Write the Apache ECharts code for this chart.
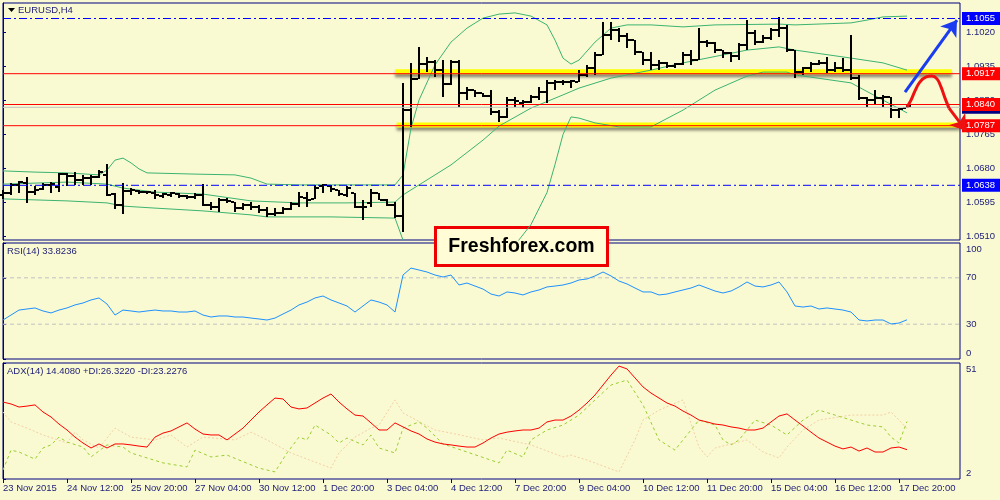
<!DOCTYPE html>
<html><head><meta charset="utf-8">
<script src="https://cdn.jsdelivr.net/npm/echarts@6/dist/echarts.min.js"></script>
<style>html,body{margin:0;padding:0;background:#fafad2;}#chart{width:1000px;height:500px;}</style>
</head><body><div id="chart"></div>
<script>
// ---- EURUSD H4 bars (index 0 = 23 Nov 04:00) ----
const barOpen = [1.0614,1.0619,1.0639,1.0644,1.0621,1.0628,1.0639,1.0634,1.0666,1.0661,1.0651,1.0656,1.0659,1.0664,1.0616,1.0589,1.0624,1.0624,1.0621,1.0619,
1.0611,1.0614,1.0616,1.0611,1.0609,1.0614,1.0589,1.0584,1.0601,1.0596,1.0581,1.0589,1.0584,1.0576,1.0566,1.0569,1.0579,1.0591,1.0606,1.0604,
1.0636,1.0636,1.0626,1.0614,1.0619,1.0584,1.0594,1.0619,1.0601,1.0589,1.0561,1.0826,1.0904,1.0941,1.0946,1.0926,1.0891,1.0946,1.0869,1.0876,
1.0869,1.0861,1.0821,1.0809,1.0851,1.0844,1.0846,1.0859,1.0871,1.0894,1.0896,1.0896,1.0896,1.0914,1.0931,1.0964,1.1014,1.1026,1.1011,1.1001,
1.0971,1.0951,1.0939,1.0944,1.0936,1.0941,1.0964,1.0951,1.0996,1.0994,1.0976,1.0969,1.0961,1.0989,1.1019,1.0996,1.1006,1.1026,1.1031,1.0976,
1.0921,1.0931,1.0941,1.0944,1.0926,1.0931,1.0926,1.0906,1.0856,1.0851,1.0856,1.0859,1.0826,1.0831];
const barHigh = [1.0626,1.0644,1.0649,1.0659,1.0636,1.0644,1.0646,1.0669,1.0669,1.0671,1.0664,1.0664,1.0676,1.0691,1.0619,1.0644,1.0631,1.0626,1.0624,1.0626,
1.0619,1.0621,1.0619,1.0614,1.0619,1.0641,1.0596,1.0606,1.0606,1.0596,1.0594,1.0596,1.0589,1.0584,1.0581,1.0584,1.0596,1.0621,1.0621,1.0639,
1.0641,1.0639,1.0626,1.0636,1.0619,1.0601,1.0629,1.0619,1.0604,1.0596,1.0894,1.0944,1.0984,1.0959,1.0951,1.0951,1.0951,1.0951,1.0884,1.0876,
1.0869,1.0876,1.0826,1.0859,1.0859,1.0851,1.0864,1.0884,1.0901,1.0901,1.0901,1.0901,1.0926,1.0939,1.0971,1.1046,1.1046,1.1031,1.1019,1.1001,
1.0971,1.0971,1.0951,1.0946,1.0944,1.0971,1.0976,1.1031,1.1001,1.0996,1.0976,1.0971,1.0994,1.1051,1.1026,1.1014,1.1031,1.1059,1.1039,1.0976,
1.0934,1.0946,1.0951,1.0959,1.0946,1.0956,1.1014,1.0914,1.0859,1.0876,1.0864,1.0859,1.0831,1.0839];
const barLow = [1.0604,1.0614,1.0619,1.0594,1.0614,1.0626,1.0619,1.0621,1.0636,1.0639,1.0639,1.0639,1.0656,1.0611,1.0579,1.0566,1.0614,1.0616,1.0616,1.0604,
1.0606,1.0609,1.0606,1.0604,1.0604,1.0586,1.0576,1.0571,1.0594,1.0571,1.0576,1.0576,1.0568,1.0559,1.0561,1.0566,1.0576,1.0584,1.0584,1.0604,
1.0619,1.0621,1.0611,1.0609,1.0581,1.0551,1.0584,1.0601,1.0586,1.0556,1.0521,1.0784,1.0904,1.0921,1.0909,1.0859,1.0889,1.0834,1.0851,1.0859,
1.0859,1.0814,1.0796,1.0806,1.0834,1.0831,1.0844,1.0851,1.0844,1.0876,1.0889,1.0881,1.0896,1.0909,1.0914,1.0964,1.1001,1.0996,1.0981,1.0964,
1.0939,1.0926,1.0926,1.0931,1.0931,1.0939,1.0939,1.0951,1.0984,1.0969,1.0956,1.0946,1.0951,1.0976,1.0989,1.0994,1.1001,1.1009,1.0971,1.0906,
1.0914,1.0921,1.0939,1.0919,1.0921,1.0921,1.0901,1.0851,1.0834,1.0839,1.0834,1.0806,1.0806,1.0831];
const barClose = [1.0619,1.0639,1.0646,1.0621,1.0626,1.0639,1.0641,1.0666,1.0661,1.0651,1.0656,1.0659,1.0671,1.0614,1.0589,1.0624,1.0626,1.0621,1.0621,1.0614,
1.0616,1.0619,1.0611,1.0609,1.0614,1.0589,1.0584,1.0601,1.0599,1.0581,1.0589,1.0584,1.0576,1.0566,1.0569,1.0579,1.0591,1.0609,1.0601,1.0631,
1.0639,1.0629,1.0616,1.0631,1.0584,1.0584,1.0619,1.0601,1.0589,1.0561,1.0826,1.0904,1.0941,1.0946,1.0926,1.0891,1.0946,1.0869,1.0876,1.0869,
1.0861,1.0821,1.0809,1.0851,1.0849,1.0846,1.0859,1.0871,1.0894,1.0896,1.0896,1.0899,1.0914,1.0931,1.0964,1.1014,1.1026,1.1011,1.1001,1.0971,
1.0951,1.0939,1.0944,1.0936,1.0941,1.0964,1.0951,1.0996,1.0994,1.0976,1.0969,1.0961,1.0989,1.1019,1.0996,1.1006,1.1026,1.1031,1.0976,1.0921,
1.0931,1.0941,1.0944,1.0926,1.0931,1.0926,1.0906,1.0856,1.0851,1.0856,1.0859,1.0826,1.0829,1.0836];

// ---- Bollinger bands: [bar index, price] ----
const bbUpper = [[0,1.0674],[4,1.0671],[8,1.0669],[12,1.0664],[13,1.0676],[14,1.0701],[15,1.0706],[16,1.0694],[17,1.0679],[18,1.0669],[24,1.0666],[29,1.0664],[31,1.0656],[33,1.0641],[37,1.0639],[43,1.0639],[49,1.0639],[50,1.0664],[51,1.0781],[52,1.0851],[54,1.0939],[56,1.0996],[58,1.1031],[60,1.1056],[62,1.1066],[64,1.1069],[66,1.1061],[68,1.1039],[69,1.1001],[70,1.0956],[71,1.0941],[72,1.0951],[74,1.0996],[76,1.1031],[78,1.1039],[81,1.1039],[85,1.1034],[89,1.1039],[97,1.1041],[99,1.1039],[106,1.1044],[108,1.1051],[110,1.1059],[113,1.1061]];
const bbMiddle = [[0,1.0641],[8,1.0646],[13,1.0641],[15,1.0631],[19,1.0621],[25,1.0616],[31,1.0599],[37,1.0594],[43,1.0594],[49,1.0596],[50,1.0614],[52,1.0639],[56,1.0689],[60,1.0751],[62,1.0786],[66,1.0831],[70,1.0864],[72,1.0881],[76,1.0906],[81,1.0926],[85,1.0944],[93,1.0976],[97,1.0984],[99,1.0976],[106,1.0956],[110,1.0944],[113,1.0926]];
const bbLower = [[0,1.0604],[8,1.0599],[13,1.0594],[15,1.0586],[19,1.0581],[25,1.0574],[31,1.0564],[33,1.0559],[41,1.0559],[49,1.0556],[50,1.0501],[51,1.0462],[54,1.0405],[57,1.0385],[60,1.0400],[62,1.0440],[64,1.0489],[66,1.0540],[68,1.0620],[69,1.0690],[70,1.0765],[71,1.0809],[72,1.0806],[74,1.0794],[77,1.0784],[81,1.0784],[85,1.0826],[89,1.0876],[93,1.0911],[95,1.0921],[98,1.0921],[99,1.0914],[106,1.0894],[110,1.0851],[113,1.0819]];

// ---- RSI(14) per bar ----
const rsiValues = [33.6,37.9,42.2,43.1,44.0,41.4,39.7,42.2,44.0,46.6,48.3,50.9,52.6,47.4,37.9,42.2,41.4,40.5,41.4,42.2,
41.4,41.4,40.5,40.5,41.4,37.9,36.2,37.1,37.1,36.2,36.2,35.3,34.5,33.6,35.3,38.8,42.2,46.6,49.1,52.6,
54.3,50.9,48.3,45.7,40.5,45.7,50.9,49.1,46.6,40.5,72.4,78.4,76.7,75.0,72.4,70.7,72.4,63.8,65.5,62.9,
60.3,56.0,54.3,57.8,56.9,55.2,57.8,59.5,62.1,62.9,63.8,65.5,68.1,69.0,71.6,75.0,71.6,67.2,64.7,61.2,
57.8,57.8,55.2,56.0,57.8,59.5,61.2,63.8,61.2,58.6,56.9,58.6,62.1,66.4,62.9,62.1,63.8,66.4,57.8,45.7,
44.8,45.7,43.1,44.0,43.1,42.2,40.5,33.6,32.8,33.6,33.6,30.2,31.0,33.8];
const rsiLevels = [70, 30];

// ---- ADX(14) per bar, DI lines as [bar index, value] ----
const adxValues = [34.5,33.7,32.4,32.8,33.3,30.3,28.2,25.2,22.7,19.7,17.2,15.1,16.8,15.1,16.8,16.8,16.4,15.9,15.5,19.7,
21.4,22.3,24.0,25.7,23.1,21.0,20.6,20.6,18.5,21.0,23.5,26.9,30.3,33.3,36.2,35.8,32.4,31.6,32.0,34.1,
36.2,37.9,34.5,31.6,29.0,28.6,25.7,22.7,22.7,25.7,24.0,22.3,21.0,18.9,17.6,16.8,16.4,15.9,15.5,15.5,
17.2,19.3,21.0,21.8,22.3,22.7,22.7,23.5,26.1,26.9,26.9,28.6,31.1,34.1,37.5,41.7,45.9,49.7,48.5,44.7,
40.9,38.3,36.2,34.1,32.8,30.7,29.0,26.9,26.1,25.2,24.8,24.0,23.5,22.7,22.7,23.5,26.1,28.6,29.5,26.9,
24.4,21.8,19.3,17.6,15.9,14.7,15.5,13.8,15.1,13.4,13.4,15.1,15.5,14.4];
const plusDI = [[0,5.8],[1,14.2],[2,13.4],[4,10.4],[5,15.1],[6,16.4],[7,19.7],[8,17.6],[10,15.5],[11,11.3],[13,16.4],[15,15.5],[16,13.0],[20,8.8],[23,7.1],[24,14.2],[26,11.3],[28,12.1],[32,6.6],[34,5.0],[35.5,13.0],[37,19.7],[38,18.5],[39,24.8],[41,20.6],[42,17.2],[43,19.3],[45,16.4],[46,20.6],[47,15.1],[49,13.0],[50,23.5],[52,26.1],[53,23.5],[55,16.8],[58,13.4],[62,8.8],[63,14.2],[65,11.3],[66,18.5],[68,22.7],[70,24.8],[72,29.0],[74,35.4],[76,41.7],[78,43.8],[80,33.3],[82,18.5],[84,14.2],[85,18.5],[87,26.9],[89,24.8],[90,18.5],[91,16.4],[92,18.5],[94,26.9],[96,24.8],[98,20.6],[100,26.9],[102,31.1],[104,29.0],[106,26.9],[108,24.8],[110,24.0],[111,19.7],[112,17.2],[113,26.3]];
const minusDI = [[0,30.3],[1,26.1],[3,23.5],[5,20.6],[8,17.2],[9,21.8],[10,18.5],[12,15.1],[14,23.5],[16,19.7],[19,18.5],[21,20.6],[23,15.5],[25,19.7],[29,18.5],[31,21.8],[33,18.5],[36,13.0],[41,6.6],[42,13.0],[44,19.7],[46,23.5],[47,24.8],[49,35.4],[50,29.9],[54,22.7],[56,21.4],[60,18.5],[62,19.3],[66,16.4],[70,11.3],[71,12.1],[73,10.0],[77,5.0],[79,18.5],[80,26.9],[82,31.1],[85,35.4],[87,15.5],[88,11.3],[89,15.1],[93,18.5],[95,13.4],[97,10.9],[98,15.5],[100,22.7],[102,26.9],[106,29.0],[110,29.0],[111,30.3],[112,26.9],[113,23.2]];

// ---- axis ticks ----
const timeTickIndex = [0,8,16,24,32,40,48,56,64,72,80,88,96,104,112];
const timeTickLabels = ['23 Nov 2015','24 Nov 12:00','25 Nov 20:00','27 Nov 04:00','30 Nov 12:00','1 Dec 20:00','3 Dec 04:00','4 Dec 12:00','7 Dec 20:00','9 Dec 04:00','10 Dec 12:00','11 Dec 20:00','15 Dec 04:00','16 Dec 12:00','17 Dec 20:00'];
const priceTicks = [1.0510,1.0595,1.0680,1.0765,1.0850,1.0935,1.1020];
const rsiTicks = [0,30,70,100];
const adxTicks = [2,51];

// ---- drawn objects ----
const redLevels = [1.0917,1.0840,1.0787];
const blueLevels = [1.1055,1.0638];
const bidPrice = 1.0833;
const zoneLevels = [1.0922,1.0789];
const zoneFrom = [49.0,49.2];
const zoneTo = [118.6,119.6];
const blueArrow = [[112.75,1.0871],[119.25,1.1051]];
const redPath = [[113,1.0834],[113.5,1.0851],[114,1.0874],[114.6,1.0896],[115.4,1.0909],[116.1,1.0911],[116.75,1.0904],[117.25,1.0884],[117.75,1.0856],[118.25,1.0831]];
const redArrowTip = [120.4,1.0774];

// ---------------------------------------------------
const NAVY = '#000080', TXT = '#1c1c78', FONT = 'Liberation Sans';
const XMAX = 119.625;
const ohlc = barOpen.map((o,i)=>[i,o,barHigh[i],barLow[i],barClose[i]]);
const chart = echarts.init(document.getElementById('chart'), null, {renderer:'canvas'});

function renderBar(params, api){
  const i = api.value(0);
  const pH = api.coord([i, api.value(2)]), pL = api.coord([i, api.value(3)]);
  const pO = api.coord([i, api.value(1)]), pC = api.coord([i, api.value(4)]);
  const x = Math.round(pH[0]);
  const yh = Math.round(pH[1]), yl = Math.round(pL[1]);
  const yo = Math.round(pO[1]), yc = Math.round(pC[1]);
  return {type:'group', children:[
    {type:'rect', shape:{x:x-1, y:yh, width:2, height:Math.max(2, yl-yh)}, style:{fill:'#000'}},
    {type:'rect', shape:{x:x-4, y:yo-1, width:3, height:2}, style:{fill:'#000'}},
    {type:'rect', shape:{x:x+1, y:yc-1, width:3, height:2}, style:{fill:'#000'}}
  ]};
}

function levelSeries(value, color, dash, bg, z){
  return {type:'line', xAxisIndex:0, yAxisIndex:0, z:z, symbol:'none', silent:true, clip:false,
    data:[[0,value],[XMAX,value]],
    lineStyle:{color:color, width:1, type:dash},
    endLabel:{show:true, distance:2, formatter:()=>value.toFixed(4),
      color:'#fff', backgroundColor:bg, padding:[2,8,1,4], fontFamily:FONT, fontSize:9.5}};
}

const grids = [
  {left:3, top:3, width:957, height:237},
  {left:3, top:243, width:957, height:116},
  {left:3, top:363, width:957, height:116}
].map(g=>Object.assign(g,{show:true, borderColor:NAVY, borderWidth:1, backgroundColor:'transparent'}));

const xAxes = [0,1,2].map(k=>({
  type:'value', gridIndex:k, min:0, max:XMAX,
  axisLine:{show:false}, splitLine:{show:false},
  axisTick: k===2 ? {show:true, customValues:timeTickIndex, length:4, lineStyle:{color:NAVY}} : {show:false},
  axisLabel: k===2 ? {show:true, customValues:timeTickIndex, align:'left', margin:4,
      formatter:v=>{const j=timeTickIndex.indexOf(Math.round(v)); return j>=0?timeTickLabels[j]:'';},
      color:TXT, fontFamily:FONT, fontSize:9.5} : {show:false}
}));

const richTB = {t:{padding:[12,0,0,0],color:TXT,fontFamily:FONT,fontSize:9.5}, b:{padding:[0,0,12,0],color:TXT,fontFamily:FONT,fontSize:9.5}};
const yAxes = [
  {type:'value', gridIndex:0, position:'right', min:1.050125, max:1.109375,
   axisLine:{show:true, lineStyle:{color:NAVY}}, splitLine:{show:false},
   axisTick:{show:true, customValues:priceTicks, length:3, lineStyle:{color:NAVY}},
   axisLabel:{customValues:priceTicks, formatter:v=>v.toFixed(4), color:TXT, fontFamily:FONT, fontSize:9.5, margin:6}},
  {type:'value', gridIndex:1, position:'right', min:0, max:100,
   axisLine:{show:true, lineStyle:{color:NAVY}}, splitLine:{show:false},
   axisTick:{show:true, customValues:rsiTicks, length:3, lineStyle:{color:NAVY}},
   axisLabel:{customValues:rsiTicks, margin:6,
     formatter:v=> v===100?'{t|100}':(v===0?'{b|0}':String(v)),
     color:TXT, fontFamily:FONT, fontSize:9.5, rich:richTB}},
  {type:'value', gridIndex:2, position:'right', min:2, max:51,
   axisLine:{show:true, lineStyle:{color:NAVY}}, splitLine:{show:false},
   axisTick:{show:true, customValues:adxTicks, length:3, lineStyle:{color:NAVY}},
   axisLabel:{customValues:adxTicks, margin:6,
     formatter:v=> v===51?'{t|51}':'{b|2}',
     color:TXT, fontFamily:FONT, fontSize:9.5, rich:richTB}}
];

const series = [];
// yellow zones
zoneLevels.forEach((lv,k)=>{
  series.push({type:'line', xAxisIndex:0, yAxisIndex:0, z:1, symbol:'none', silent:true,
    data:[[zoneFrom[k],lv],[zoneTo[k],lv]],
    lineStyle:{color:'#ffff00', width:5, shadowColor:'rgba(0,0,0,0.45)', shadowBlur:3, shadowOffsetY:3}});
});
// Bollinger
[bbUpper,bbMiddle,bbLower].forEach(d=>{
  series.push({type:'line', xAxisIndex:0, yAxisIndex:0, z:2, symbol:'none', data:d,
    lineStyle:{color:'#3cb371', width:1}});
});
// bars
series.push({type:'custom', xAxisIndex:0, yAxisIndex:0, z:3, renderItem:renderBar,
  encode:{x:0, y:[1,2,3,4]}, data:ohlc});
// bid line (under labels) and levels
series.push(levelSeries(bidPrice, '#c0c0c0', 'solid', NAVY, 4));
redLevels.forEach(v=>series.push(levelSeries(v, '#ff0000', 'solid', '#ff0000', 5)));
blueLevels.forEach(v=>series.push(levelSeries(v, '#0000ff', [8,3,2,3], '#0000ff', 5)));
// arrows
series.push({type:'lines', coordinateSystem:'cartesian2d', xAxisIndex:0, yAxisIndex:0, z:6, clip:false,
  symbol:['none','arrow'], symbolSize:15,
  data:[{coords:blueArrow}], lineStyle:{color:'#1a3cf0', width:3, opacity:1}});
series.push({type:'line', xAxisIndex:0, yAxisIndex:0, z:6, clip:false, symbol:'none', smooth:0.4,
  data:redPath, lineStyle:{color:'#ee1111', width:3}});
series.push({type:'lines', coordinateSystem:'cartesian2d', xAxisIndex:0, yAxisIndex:0, z:6, clip:false,
  symbol:['none','arrow'], symbolSize:15,
  data:[{coords:[redPath[redPath.length-1], redArrowTip]}], lineStyle:{color:'#ee1111', width:3, opacity:1}});
// RSI
series.push({type:'line', xAxisIndex:1, yAxisIndex:1, symbol:'none', z:3,
  data:rsiValues.map((v,i)=>[i,v]), lineStyle:{color:'#1e90ff', width:1}});
rsiLevels.forEach(v=>series.push({type:'line', xAxisIndex:1, yAxisIndex:1, symbol:'none', z:2, silent:true,
  data:[[0,v],[XMAX,v]], lineStyle:{color:'#c0c0c0', width:1, type:[4,3]}}));
// ADX
series.push({type:'line', xAxisIndex:2, yAxisIndex:2, symbol:'none', z:2,
  data:minusDI, lineStyle:{color:'#f3cfa6', width:1, type:[2,2]}});
series.push({type:'line', xAxisIndex:2, yAxisIndex:2, symbol:'none', z:2,
  data:plusDI, lineStyle:{color:'#9acd32', width:1, type:[3,3]}});
series.push({type:'line', xAxisIndex:2, yAxisIndex:2, symbol:'none', z:3,
  data:adxValues.map((v,i)=>[i,v]), lineStyle:{color:'#ff0000', width:1}});

chart.setOption({
  animation:false,
  backgroundColor:'#fafad2',
  grid:grids, xAxis:xAxes, yAxis:yAxes, series:series,
  graphic:[
    {type:'polygon', shape:{points:[[8,8],[15,8],[11.5,12]]}, style:{fill:'#000'}},
    {type:'text', left:18, top:5, style:{text:'EURUSD,H4', fill:TXT, font:'9.5px "Liberation Sans"'}},
    {type:'text', left:7, top:246, style:{text:'RSI(14) 33.8236', fill:TXT, font:'9.5px "Liberation Sans"'}},
    {type:'text', left:7, top:366, style:{text:'ADX(14) 14.4080 +DI:26.3220 -DI:23.2276', fill:TXT, font:'9.5px "Liberation Sans"'}},
    {type:'group', left:434, top:226, z:100, children:[
      {type:'rect', shape:{x:0,y:0,width:172,height:38}, style:{fill:'#fffcd6', stroke:'#ee0000', lineWidth:3}},
      {type:'text', x:86, y:19, style:{text:'Freshforex.com', fill:'#000', font:'bold 19.5px "Liberation Sans"', align:'center', verticalAlign:'middle'}}
    ]}
  ]
});
</script></body></html>
